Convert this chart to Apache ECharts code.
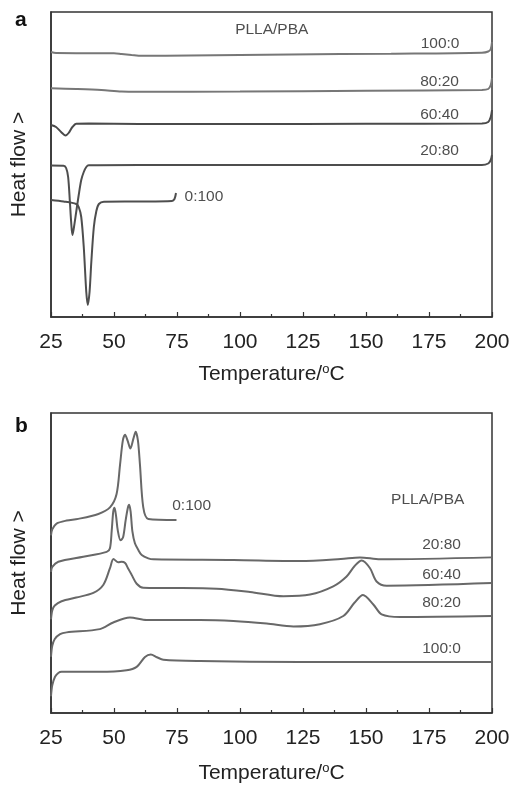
<!DOCTYPE html>
<html>
<head>
<meta charset="utf-8">
<script src="https://cdn.jsdelivr.net/npm/echarts@6/dist/echarts.min.js"></script>
<style>
html, body { margin: 0; padding: 0; background: #fff; }
#chart { width: 513px; height: 785px; }
</style>
</head>
<body>
<div id="chart"></div>
<script>
// DSC traces: [temperature °C, heat flow (a.u., offset stacked)]
// panel a
const a100_0 = [[25, 265], [27, 264], [50, 263.7], [53, 263], [57, 262], [61, 261.2], [80, 261.5], [120, 262.5], [160, 263.3], [196, 264.3], [198.5, 265.5], [199.5, 268], [200, 275]];
const a80_20 = [[25, 228.7], [35, 228], [45, 227], [53, 225.5], [60, 225.3], [100, 225.5], [150, 226.2], [196, 227], [198.5, 228], [199.5, 232], [200, 239]];
const a60_40 = [[25, 192], [27, 190], [29, 185], [30.8, 181.5], [32, 184], [33.5, 190], [35, 193.3], [40, 193.5], [60, 193], [100, 193], [150, 193.2], [196, 193.5], [198.5, 195], [199.5, 200], [200, 207]];
const a20_80 = [[25, 151.5], [30, 151.3], [31, 149], [31.8, 140], [32.5, 115], [33, 95], [33.5, 82], [34, 88], [35, 105], [36, 122], [37, 137], [38, 145], [39, 150], [40, 151.7], [60, 152], [100, 152], [150, 152], [196, 152], [198.5, 153.5], [199.5, 157], [200, 162]];
const a0_100 = [[25, 117], [30, 115.5], [35, 113], [36, 110], [37, 100], [38, 70], [39, 25], [39.6, 12], [40.3, 25], [41, 55], [42, 90], [43, 106], [44, 113], [46, 115.3], [60, 115.5], [73, 116], [74, 118], [74.6, 124]];

// panel b
const b100_0 = [[25, 17], [25.5, 28], [26.6, 36.7], [27.9, 40.5], [29.2, 41.7], [44.4, 41.7], [55, 43.3], [59, 46.7], [62.3, 56.7], [64.6, 59.2], [67, 56.5], [69.6, 54], [84.1, 52.7], [123.8, 51.7], [200, 51.7]];
const b80_20 = [[25, 57], [25.5, 68], [26.5, 75], [28.6, 80], [31.2, 81.7], [44.4, 85], [49.7, 91.7], [56.3, 96.7], [63, 94.3], [84.1, 94.3], [97.4, 93.3], [110.6, 90.7], [121.2, 87.7], [131.7, 90], [141, 98.3], [145.5, 112], [148.8, 119.5], [152.9, 110], [156.2, 100], [163.5, 97.3], [200, 98.3]];
const b60_40 = [[25, 95], [25.5, 104], [26.5, 109], [29.2, 113.3], [35, 117], [41.8, 121.7], [45.8, 130], [48.4, 146.7], [49.8, 156], [51.7, 152.7], [53, 153.2], [54.4, 152], [55.5, 147], [57, 140], [59, 131], [61.6, 127], [70.9, 126.7], [90.7, 126], [104, 122.7], [117.2, 118.3], [127.8, 120], [137, 128.3], [142.3, 138.3], [145.5, 149], [148.3, 154.5], [151.6, 146.7], [154.2, 133.3], [158.2, 129], [200, 131.7]];
const b20_80 = [[25, 143], [25.5, 148], [27.9, 153.3], [37.8, 158.3], [47.1, 163.3], [48.4, 167], [49.1, 185], [49.7, 204], [50.2, 208], [50.8, 200], [51.5, 185], [52.6, 175], [53.6, 178], [54.6, 195], [55.5, 208], [56, 211], [56.6, 204], [57.3, 184], [58.3, 172], [59.7, 165], [61, 160], [63.6, 156.7], [65.6, 155.7], [97.4, 155], [123.8, 154], [140, 156], [147.6, 157.7], [155.6, 155.7], [200, 157.7]];
const b0_100 = [[25, 180], [25.5, 186], [27.2, 192], [31.2, 195], [35.8, 196.7], [43.8, 201.7], [48.4, 208.4], [51, 221.7], [52.4, 251.7], [53.5, 276], [54.4, 282], [55.4, 276], [56.5, 268], [57.7, 278], [58.6, 285], [59.5, 276], [60.3, 251.7], [61.6, 208.7], [63.6, 196.7], [74.8, 195.7]];

// annotation texts and where they sit (data coordinates)
const labelTexts = ["PLLA/PBA", "100:0", "80:20", "60:40", "20:80", "0:100"];
const labelsATemp = [112.6, 179.4, 179.2, 179.2, 179.2, 85.7];
const labelsAHeat = [287.7, 273.7, 235.3, 202, 166.3, 120.3];
const labelsBTemp = [174.5, 180, 180, 180, 180, 80.8];
const labelsBHeat = [215.7, 65, 111.7, 140, 171, 210];

const xTicks = [25, 50, 75, 100, 125, 150, 175, 200];

const FONT = "'Liberation Sans', Arial, sans-serif";
const INK = "#222";
const AXIS = "#333";

const chart = echarts.init(document.getElementById("chart"), null, { renderer: "canvas" });

function xAxis(gridIndex, nameGap) {
  return {
    gridIndex,
    type: "value",
    min: xTicks[0],
    max: xTicks[xTicks.length - 1],
    interval: 25,
    axisLine: { show: true, lineStyle: { color: AXIS, width: 1.5 } },
    axisTick: { show: true, inside: true, length: 5, lineStyle: { color: AXIS, width: 1.2 } },
    minorTick: { show: true, splitNumber: 2, length: 3, lineStyle: { color: AXIS, width: 1.2 } },
    splitLine: { show: false },
    axisLabel: { fontSize: 21, color: INK, margin: 15, fontFamily: FONT, showMinLabel: true, showMaxLabel: true },
    name: "Temperature/{sup|o}C",
    nameLocation: "middle",
    nameGap,
    nameTextStyle: {
      fontSize: 21, color: INK, fontFamily: FONT,
      rich: { sup: { fontSize: 13, color: INK, fontFamily: FONT, padding: [0, 0, 10, 0] } }
    }
  };
}

function yAxis(gridIndex, max) {
  return {
    gridIndex,
    type: "value",
    min: 0,
    max,
    axisLine: { show: true, lineStyle: { color: AXIS, width: 1.5 } },
    axisTick: { show: false },
    axisLabel: { show: false },
    splitLine: { show: false },
    name: "Heat flow >",
    nameLocation: "middle",
    nameGap: 21,
    nameRotate: 90,
    nameTextStyle: { fontSize: 21, color: INK, fontFamily: FONT }
  };
}

function trace(data, idx, color) {
  return {
    type: "line",
    xAxisIndex: idx,
    yAxisIndex: idx,
    data,
    showSymbol: false,
    smooth: 0.3,
    lineStyle: { color, width: 2 },
    silent: true
  };
}

function labels(temps, heats, idx) {
  return {
    type: "scatter",
    xAxisIndex: idx,
    yAxisIndex: idx,
    symbolSize: 0,
    silent: true,
    z: 5,
    data: labelTexts.map((t, i) => ({ name: t, value: [temps[i], heats[i]] })),
    label: {
      show: true,
      position: "inside",
      formatter: p => p.name,
      fontSize: 15.5,
      color: INK,
      fontFamily: FONT
    }
  };
}

chart.setOption({
  backgroundColor: "#fff",
  animation: false,
  title: [
    { text: "a", left: 10, top: 5, textStyle: { fontSize: 21, fontWeight: "bold", color: "#111", fontFamily: FONT } },
    { text: "b", left: 10, top: 411, textStyle: { fontSize: 21, fontWeight: "bold", color: "#111", fontFamily: FONT } }
  ],
  grid: [
    { left: 51, top: 12, width: 441, height: 305, show: true, borderColor: AXIS, borderWidth: 1.5, backgroundColor: "transparent" },
    { left: 51, top: 413, width: 441, height: 304, show: true, borderColor: AXIS, borderWidth: 1.5, backgroundColor: "transparent" }
  ],
  xAxis: [xAxis(0, 46), xAxis(1, 49)],
  yAxis: [yAxis(0, 305), yAxis(1, 304)],
  series: [
    trace(a100_0, 0, "#777"),
    trace(a80_20, 0, "#777"),
    trace(a60_40, 0, "#4a4a4a"),
    trace(a20_80, 0, "#4e4e4e"),
    trace(a0_100, 0, "#4e4e4e"),
    labels(labelsATemp, labelsAHeat, 0),
    trace(b100_0, 1, "#686868"),
    trace(b80_20, 1, "#686868"),
    trace(b60_40, 1, "#686868"),
    trace(b20_80, 1, "#686868"),
    trace(b0_100, 1, "#686868"),
    labels(labelsBTemp, labelsBHeat, 1)
  ]
});
</script>
</body>
</html>
